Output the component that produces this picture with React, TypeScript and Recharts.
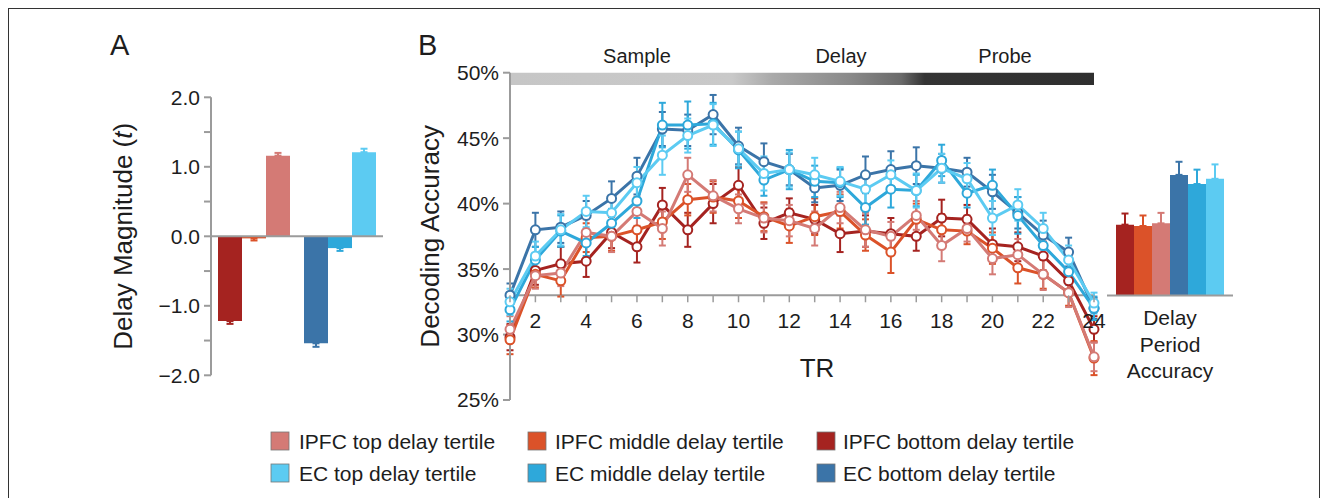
import React from 'react';
import {
  Bar,
  BarChart,
  ErrorBar,
  Line,
  LineChart,
  ReferenceArea,
  ReferenceLine,
  XAxis,
  YAxis,
} from 'recharts';

const FONT = '"Liberation Sans", Arial, Helvetica, sans-serif';
const AXIS = '#9b9b9b';
const INK = '#1d1d1d';

// ---- panel A: delay magnitude (bottom, middle, top tertile)
const regions = ['IPFC', 'EC'];
const ipfcMagnitude = [-1.22, -0.03, 1.16];
const ipfcMagnitudeErr = [0.04, 0.03, 0.04];
const ecMagnitude = [-1.54, -0.17, 1.21];
const ecMagnitudeErr = [0.05, 0.04, 0.05];
const magnitudeTicks = [-2, -1.5, -1, -0.5, 0, 0.5, 1, 1.5, 2];

// ---- panel B: decoding accuracy per TR
const trs = [1, 2, 3, 4, 5, 6, 7, 8, 9, 10, 11, 12, 13, 14, 15, 16, 17, 18, 19, 20, 21, 22, 23, 24];
const accuracyTicks = [25, 30, 35, 40, 45, 50];

const ipfcBottomAcc = [29.8, 34.9, 35.4, 35.6, 37.8, 36.7, 39.9, 38.0, 40.0, 41.4, 38.5, 39.3, 38.8, 37.7, 37.9, 37.7, 37.5, 38.9, 38.8, 36.9, 36.7, 36.0, 34.1, 30.4];
const ipfcMiddleAcc = [29.6, 34.6, 34.1, 37.4, 37.5, 38.0, 38.6, 40.3, 40.5, 40.2, 39.0, 38.3, 39.0, 39.4, 37.6, 36.3, 38.8, 38.0, 37.9, 36.6, 35.1, 34.6, 33.2, 28.2];
const ipfcTopAcc = [30.4, 34.5, 34.7, 37.8, 37.5, 39.4, 38.1, 42.2, 40.6, 39.6, 38.9, 38.7, 38.1, 39.7, 38.0, 37.5, 39.1, 36.8, 38.1, 35.8, 36.1, 34.6, 33.2, 28.3];
const ecBottomAcc = [33.0, 38.0, 38.2, 39.1, 40.4, 42.1, 45.7, 45.6, 46.8, 44.4, 43.2, 42.6, 41.2, 41.4, 42.2, 42.6, 42.9, 42.7, 42.4, 40.9, 39.3, 37.6, 36.3, 32.0];
const ecMiddleAcc = [31.9, 35.7, 37.9, 37.0, 38.5, 40.2, 46.0, 46.0, 46.1, 44.1, 41.8, 42.6, 41.7, 41.6, 39.7, 41.1, 41.0, 43.3, 40.8, 41.4, 39.1, 36.8, 34.8, 32.0];
const ecTopAcc = [32.5, 36.0, 38.0, 39.4, 39.3, 41.6, 43.7, 45.2, 46.0, 44.2, 42.3, 42.6, 42.2, 41.7, 41.1, 42.2, 41.0, 42.7, 41.9, 38.9, 39.9, 38.1, 35.7, 32.4];

const ipfcBottomErr = [1.0, 1.1, 1.3, 1.2, 1.2, 1.2, 1.3, 1.3, 1.5, 1.4, 1.2, 1.1, 1.1, 1.4, 1.2, 1.2, 1.1, 1.4, 1.1, 1.2, 1.1, 1.1, 1.0, 1.0];
const ipfcMiddleErr = [1.1, 1.0, 1.2, 1.1, 1.1, 1.2, 1.3, 1.2, 1.2, 1.3, 1.1, 1.3, 1.4, 1.3, 1.2, 1.6, 1.2, 1.2, 1.0, 1.2, 1.2, 1.1, 1.0, 1.3];
const ipfcTopErr = [1.0, 1.0, 1.0, 1.0, 1.2, 1.1, 1.3, 1.3, 1.2, 1.1, 1.1, 1.2, 1.3, 1.2, 1.3, 1.1, 1.1, 1.2, 1.0, 1.2, 1.2, 1.2, 1.1, 1.1];
const ecBottomErr = [0.9, 1.3, 1.2, 1.1, 1.3, 1.4, 1.3, 1.2, 1.5, 1.4, 1.4, 1.2, 1.1, 1.2, 1.4, 1.4, 1.4, 1.1, 1.1, 1.3, 1.2, 1.1, 1.1, 0.8];
const ecMiddleErr = [0.9, 1.0, 1.2, 1.0, 1.1, 1.3, 1.7, 1.8, 1.6, 1.4, 1.2, 1.5, 1.2, 1.1, 1.3, 1.4, 1.2, 1.2, 1.1, 1.2, 1.4, 1.0, 1.0, 0.9];
const ecTopErr = [1.0, 1.1, 1.2, 1.2, 1.0, 1.2, 1.5, 1.3, 1.6, 1.3, 1.3, 1.3, 1.3, 1.1, 1.2, 1.1, 1.3, 1.1, 1.2, 1.3, 1.2, 1.2, 1.1, 0.8];

// ---- inset: delay period accuracy (same order as SERIES)
const delayPeriodAcc = [38.4, 38.3, 38.5, 42.2, 41.5, 41.9];
const delayPeriodErr = [0.85, 0.8, 0.8, 1.0, 1.1, 1.1];

const SERIES = [
  { key: 'ipfcBottom', label: 'IPFC bottom delay tertile', color: '#a52320', acc: ipfcBottomAcc, err: ipfcBottomErr },
  { key: 'ipfcMiddle', label: 'IPFC middle delay tertile', color: '#db5229', acc: ipfcMiddleAcc, err: ipfcMiddleErr },
  { key: 'ipfcTop', label: 'IPFC top delay tertile', color: '#d47a75', acc: ipfcTopAcc, err: ipfcTopErr },
  { key: 'ecBottom', label: 'EC bottom delay tertile', color: '#3b74a8', acc: ecBottomAcc, err: ecBottomErr },
  { key: 'ecMiddle', label: 'EC middle delay tertile', color: '#2ea8da', acc: ecMiddleAcc, err: ecMiddleErr },
  { key: 'ecTop', label: 'EC top delay tertile', color: '#5ccbf2', acc: ecTopAcc, err: ecTopErr },
];
const byKey = (k: string) => SERIES.find((s) => s.key === k)!;

// panel A rows: each region only fills its own keys, bars share a stack per tertile
const tertiles = ['Bottom', 'Middle', 'Top'];
const magnitudeData = regions.map((region, ri) => {
  const row: any = { region };
  const vals = ri === 0 ? ipfcMagnitude : ecMagnitude;
  const errs = ri === 0 ? ipfcMagnitudeErr : ecMagnitudeErr;
  tertiles.forEach((t, ti) => {
    const key = (ri === 0 ? 'ipfc' : 'ec') + t;
    row[key] = vals[ti];
    row[key + 'Err'] = vals[ti] < 0 ? [errs[ti], 0] : [0, errs[ti]];
  });
  return row;
});

const accuracyData = trs.map((tr, i) => {
  const row: any = { tr };
  SERIES.forEach((s) => {
    row[s.key] = s.acc[i];
    row[s.key + 'Err'] = s.err[i];
  });
  return row;
});

const insetRow: any = { name: 'delay' };
SERIES.forEach((s, i) => {
  insetRow[s.key] = delayPeriodAcc[i];
  insetRow[s.key + 'Err'] = [0, delayPeriodErr[i]];
});
const insetData = [insetRow];

// panel B geometry (the TR axis sits at 33%)
const B_TOP = 32.7;
const B_PLOT_H = 327.3;
const B_AXIS_Y = B_TOP + ((50 - 33) / 25) * B_PLOT_H;

const fmtMag = (v: number) => {
  if (Math.abs(v % 1) > 0) return '';
  const s = Math.abs(v).toFixed(1);
  return v < 0 ? '\u2212' + s : s;
};

function TrTick(props: any) {
  const { x, payload } = props;
  const v = payload.value;
  return (
    <g>
      <line x1={x} x2={x} y1={B_AXIS_Y} y2={B_AXIS_Y + 7} stroke={AXIS} strokeWidth={1.5} />
      {v % 2 === 0 && (
        <text x={x} y={B_AXIS_Y + 33} textAnchor="middle" fontSize={21} fill={INK}>
          {v}
        </text>
      )}
    </g>
  );
}

function rotLabel(dx: number, children: React.ReactNode) {
  return (props: any) => {
    const { x, y, height } = props.viewBox;
    const cx = x + dx;
    const cy = y + height / 2;
    return (
      <text
        x={cx}
        y={cy}
        transform={`rotate(-90 ${cx} ${cy})`}
        textAnchor="middle"
        dominantBaseline="central"
        fontSize={26}
        fill={INK}
      >
        {children}
      </text>
    );
  };
}

const OX = 9;
const OY = 9;

export default function App() {
  const tickStyle = { fontSize: 21, fill: INK };
  const legendRows = [
    ['ipfcTop', 'ipfcMiddle', 'ipfcBottom'],
    ['ecTop', 'ecMiddle', 'ecBottom'],
  ];
  const legendSwatchX = [271, 528, 817];
  const legendTextX = [299, 555, 843];
  const legendY = [441, 473];

  return (
    <div
      style={{
        position: 'relative',
        width: 1310,
        height: 500,
        border: '1px solid #333',
        borderBottom: 'none',
        fontFamily: FONT,
        background: '#fff',
      }}
    >
      {/* A */}
      <div style={{ position: 'absolute', left: 90 - OX, top: 80 - OY }}>
        <BarChart
          width={310}
          height={310}
          data={magnitudeData}
          margin={{ top: 17.3, right: 17, bottom: 14.7, left: 0 }}
          barGap={0}
          barSize={24}
        >
          <XAxis dataKey="region" hide />
          <YAxis
            domain={[-2, 2]}
            ticks={magnitudeTicks}
            interval={0}
            width={121}
            tickFormatter={fmtMag}
            tick={tickStyle}
            tickSize={7}
            tickMargin={4}
            axisLine={{ stroke: AXIS, strokeWidth: 2 }}
            tickLine={{ stroke: AXIS, strokeWidth: 2 }}
            label={rotLabel(33, (
              <>
                Delay Magnitude (<tspan fontStyle="italic">t</tspan>)
              </>
            ))}
          />
          <ReferenceLine y={0} stroke={AXIS} strokeWidth={2} />
          {tertiles.flatMap((t) =>
            ['ipfc', 'ec'].map((r) => {
              const s = byKey(r + t);
              return (
                <Bar key={s.key} dataKey={s.key} stackId={t} fill={s.color} isAnimationActive={false}>
                  <ErrorBar dataKey={s.key + 'Err'} width={3.5} strokeWidth={2} stroke={s.color} direction="y" />
                </Bar>
              );
            })
          )}
        </BarChart>
      </div>

      {/* inset */}
      <div style={{ position: 'absolute', left: 1100 - OX, top: 40 - OY }}>
        <BarChart
          width={140}
          height={270}
          data={insetData}
          margin={{ top: B_TOP, right: 7, bottom: 0, left: 7 }}
          barGap={0}
          barSize={18}
        >
          <XAxis dataKey="name" height={14.6} tick={false} tickLine={false} axisLine={{ stroke: AXIS, strokeWidth: 2 }} />
          <YAxis hide domain={[33, 50]} />
          {SERIES.map((s) => (
            <Bar key={s.key} dataKey={s.key} fill={s.color} isAnimationActive={false}>
              <ErrorBar dataKey={s.key + 'Err'} width={3.5} strokeWidth={2} stroke={s.color} direction="y" />
            </Bar>
          ))}
        </BarChart>
      </div>

      {/* B */}
      <div style={{ position: 'absolute', left: 400 - OX, top: 40 - OY }}>
        <LineChart
          width={716}
          height={380}
          data={accuracyData}
          margin={{ top: B_TOP, right: 22, bottom: 0, left: 0 }}
        >
          <defs>
            <linearGradient id="phaseGrad" x1="0" y1="0" x2="1" y2="0">
              <stop offset="0" stopColor="#c6c6c6" />
              <stop offset="0.38" stopColor="#c9c9c9" />
              <stop offset="0.45" stopColor="#a9a9a9" />
              <stop offset="0.58" stopColor="#8a8a8a" />
              <stop offset="0.67" stopColor="#6a6a6a" />
              <stop offset="0.71" stopColor="#343434" />
              <stop offset="1" stopColor="#2f2f2f" />
            </linearGradient>
          </defs>
          <XAxis
            type="number"
            dataKey="tr"
            domain={[1, 24]}
            ticks={trs}
            interval={0}
            height={20}
            axisLine={false}
            tickLine={false}
            tick={(p: any) => <TrTick {...p} />}
          />
          <YAxis
            domain={[25, 50]}
            ticks={accuracyTicks}
            interval={0}
            width={110}
            tickFormatter={(v: number) => `${v}%`}
            tick={tickStyle}
            tickSize={7}
            tickMargin={4}
            axisLine={{ stroke: AXIS, strokeWidth: 2 }}
            tickLine={{ stroke: AXIS, strokeWidth: 2 }}
            label={rotLabel(30, 'Decoding Accuracy')}
          />
          <ReferenceArea x1={1} x2={24} y1={49.06} y2={50} fill="url(#phaseGrad)" fillOpacity={1} stroke="none" />
          <ReferenceLine y={33} stroke={AXIS} strokeWidth={2} />
          {SERIES.map((s) => (
            <Line
              key={s.key}
              dataKey={s.key}
              stroke={s.color}
              strokeWidth={3}
              dot={{ r: 4.5, fill: '#fff', stroke: s.color, strokeWidth: 2 }}
              activeDot={false}
              isAnimationActive={false}
            >
              <ErrorBar dataKey={s.key + 'Err'} width={3.5} strokeWidth={2} stroke={s.color} direction="y" />
            </Line>
          ))}
        </LineChart>
      </div>

      {/* text and legend */}
      <svg
        width={1310}
        height={490}
        style={{ position: 'absolute', left: 0, top: 0, pointerEvents: 'none' }}
        fontFamily={FONT}
      >
        <g transform={`translate(${-OX} ${-OY})`} fill={INK}>
          <text x={110} y={55} fontSize={29}>A</text>
          <text x={418} y={55} fontSize={29}>B</text>
          <text x={637} y={63} fontSize={20} textAnchor="middle">Sample</text>
          <text x={841} y={63} fontSize={20} textAnchor="middle">Delay</text>
          <text x={1005} y={63} fontSize={20} textAnchor="middle">Probe</text>
          <text x={817} y={377} fontSize={26} textAnchor="middle">TR</text>
          <text x={1170} y={325} fontSize={21} textAnchor="middle">Delay</text>
          <text x={1170} y={352} fontSize={21} textAnchor="middle">Period</text>
          <text x={1170} y={378} fontSize={21} textAnchor="middle">Accuracy</text>
          {legendRows.map((row, ri) =>
            row.map((k, ci) => {
              const s = byKey(k);
              return (
                <g key={k}>
                  <rect
                    x={legendSwatchX[ci]}
                    y={legendY[ri] - 9}
                    width={18}
                    height={18}
                    fill={s.color}
                    stroke="#777"
                    strokeWidth={0.8}
                  />
                  <text x={legendTextX[ci]} y={legendY[ri] + 7.5} fontSize={21}>
                    {s.label}
                  </text>
                </g>
              );
            })
          )}
        </g>
      </svg>
    </div>
  );
}
